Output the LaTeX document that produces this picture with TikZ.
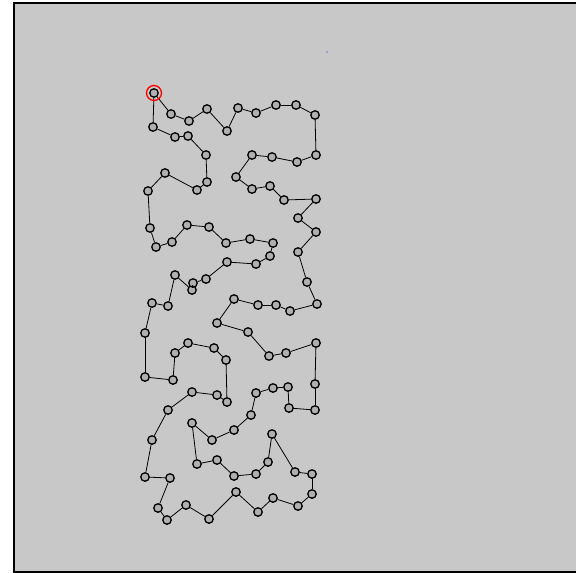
\documentclass[tikz,border=0pt]{standalone}
\usepackage{tikz}
\usetikzlibrary{calc}
\definecolor{fondo}{RGB}{200,200,200}
\tikzset{
    punto/.style={circle, draw=black, fill=fondo!88!black, line width=1.3pt, inner sep=0pt, minimum size=8.5pt},
    inicio/.style={circle, draw=red, line width=1.3pt, inner sep=0pt, minimum size=15pt},
    ruta/.style={black, line width=0.8pt},
    marco/.style={line width=2pt, black}
}
\begin{document}
\begin{tikzpicture}[x=1pt, y=-1pt]
        \useasboundingbox (0,0) rectangle (576,573);
        % Fondo y marco
        \fill[fondo] (13.5,2.5) rectangle (576,571.5);
        \draw[marco] (576,2.5) -- (13.5,2.5) -- (13.5,571.5) -- (576,571.5);
        \fill[blue!35!fondo] (327,52) circle (1pt);

        % Ciudades
        \foreach \p [count=\i] in {(154,93), (171,114), (189,121), (207,109), (227,131), (238,108), (256,113), (276,105), (296,105), (315,115),
            (316,155), (297,162), (272,157), (252,155), (236,177), (252,189), (270,186), (284,200), (316,199), (298,218),
            (316,232), (298,252), (307,282), (317,304), (290,311), (276,305), (258,305), (234,299), (217,323), (248,332),
            (269,356), (286,353), (316,343), (315,384), (315,410), (289,408), (288,387), (273,388), (256,393), (251,415),
            (234,430), (212,440), (192,423), (197,464), (217,460), (234,476), (256,474), (268,462), (272,434), (295,472),
            (312,474), (312,494), (298,506), (273,498), (258,512), (236,492), (209,519), (186,505), (167,520), (158,508),
            (170,478), (145,477), (152,440), (168,410), (192,392), (217,395), (227,402), (226,360), (214,348), (188,343),
            (175,353), (173,380), (145,377), (145,333), (152,303), (168,306), (175,275), (192,290), (193,283), (206,279),
            (227,262), (256,264), (270,256), (273,243), (250,239), (226,243), (209,227), (187,225), (172,242), (156,247),
            (150,228), (148,191), (165,173), (197,190), (207,182), (206,155), (188,136), (175,137), (153,127)}
            \node[punto] (p\i) at \p {};

        % Recorrido (cerrado)
        \foreach \i [remember=\i as \j (initially 99)] in {1,...,99}
            \draw[ruta] (p\j) -- (p\i);

        % Ciudad inicial
        \node[inicio] (ini) at (p1) {};
    \end{tikzpicture}
\end{document}
